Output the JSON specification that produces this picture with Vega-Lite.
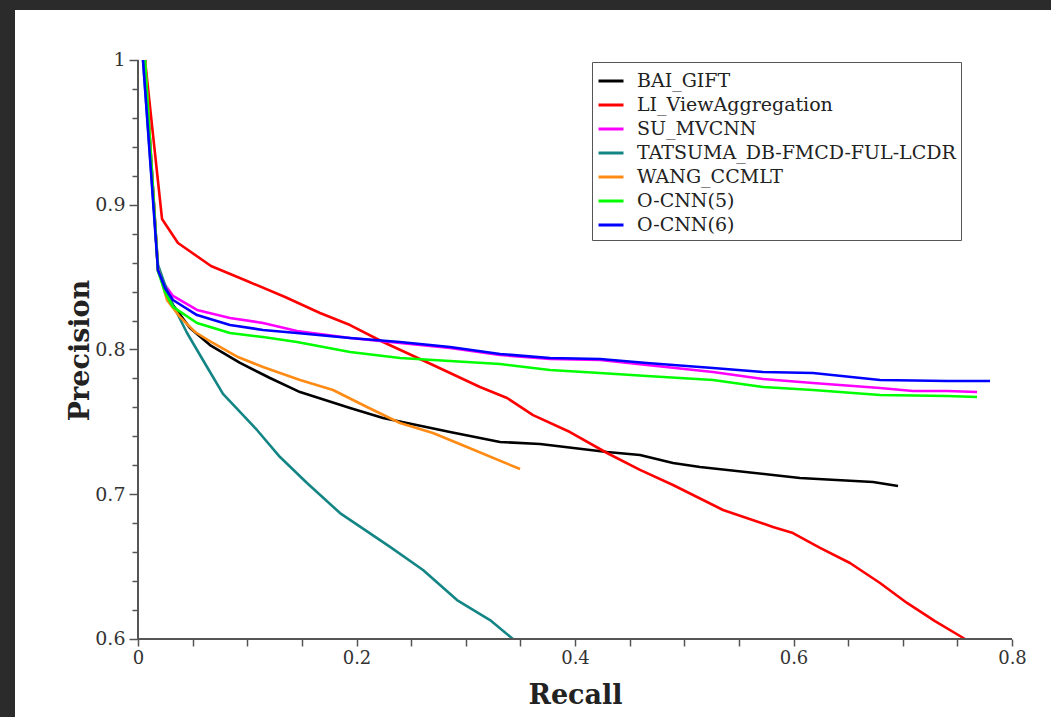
{
  "$schema": "https://vega.github.io/schema/vega-lite/v6.json",
  "autosize": "none",
  "width": 1036,
  "height": 707,
  "padding": {"left": 15, "top": 10, "right": 0, "bottom": 0},
  "background": "#2b2b2b",
  "config": {"view": {"fill": "white", "stroke": null}},
  "datasets": {
    "curves": [
      {"s":"BAI_GIFT","r":0.0064,"p":1.0},{"s":"BAI_GIFT","r":0.0183,"p":0.8542},{"s":"BAI_GIFT","r":0.032,"p":0.8307},{"s":"BAI_GIFT","r":0.0476,"p":0.8149},{"s":"BAI_GIFT","r":0.0659,"p":0.8031},{"s":"BAI_GIFT","r":0.0934,"p":0.7907},{"s":"BAI_GIFT","r":0.1208,"p":0.7803},{"s":"BAI_GIFT","r":0.1483,"p":0.7706},{"s":"BAI_GIFT","r":0.1941,"p":0.7596},{"s":"BAI_GIFT","r":0.2243,"p":0.7527},{"s":"BAI_GIFT","r":0.2856,"p":0.743},{"s":"BAI_GIFT","r":0.3314,"p":0.7361},{"s":"BAI_GIFT","r":0.368,"p":0.7347},{"s":"BAI_GIFT","r":0.4293,"p":0.7292},{"s":"BAI_GIFT","r":0.4595,"p":0.7271},{"s":"BAI_GIFT","r":0.4897,"p":0.7216},{"s":"BAI_GIFT","r":0.5144,"p":0.7188},{"s":"BAI_GIFT","r":0.5812,"p":0.7133},{"s":"BAI_GIFT","r":0.6059,"p":0.7112},{"s":"BAI_GIFT","r":0.6728,"p":0.7085},{"s":"BAI_GIFT","r":0.6957,"p":0.7057},
      {"s":"LI_ViewAggregation","r":0.0064,"p":1.0},{"s":"LI_ViewAggregation","r":0.022,"p":0.8902},{"s":"LI_ViewAggregation","r":0.0366,"p":0.8736},{"s":"LI_ViewAggregation","r":0.0668,"p":0.8577},{"s":"LI_ViewAggregation","r":0.0998,"p":0.8473},{"s":"LI_ViewAggregation","r":0.1346,"p":0.8363},{"s":"LI_ViewAggregation","r":0.1666,"p":0.8252},{"s":"LI_ViewAggregation","r":0.1941,"p":0.8169},{"s":"LI_ViewAggregation","r":0.2243,"p":0.8052},{"s":"LI_ViewAggregation","r":0.27,"p":0.7893},{"s":"LI_ViewAggregation","r":0.313,"p":0.7741},{"s":"LI_ViewAggregation","r":0.3378,"p":0.7665},{"s":"LI_ViewAggregation","r":0.3616,"p":0.7547},{"s":"LI_ViewAggregation","r":0.3954,"p":0.743},{"s":"LI_ViewAggregation","r":0.4293,"p":0.7285},{"s":"LI_ViewAggregation","r":0.4595,"p":0.7168},{"s":"LI_ViewAggregation","r":0.4897,"p":0.7064},{"s":"LI_ViewAggregation","r":0.5355,"p":0.6891},{"s":"LI_ViewAggregation","r":0.5812,"p":0.6774},{"s":"LI_ViewAggregation","r":0.5995,"p":0.6732},{"s":"LI_ViewAggregation","r":0.6243,"p":0.6629},{"s":"LI_ViewAggregation","r":0.6517,"p":0.6525},{"s":"LI_ViewAggregation","r":0.6792,"p":0.6387},{"s":"LI_ViewAggregation","r":0.7039,"p":0.6249},{"s":"LI_ViewAggregation","r":0.7295,"p":0.6124},{"s":"LI_ViewAggregation","r":0.757,"p":0.6},
      {"s":"SU_MVCNN","r":0.0064,"p":1.0},{"s":"SU_MVCNN","r":0.0183,"p":0.8549},{"s":"SU_MVCNN","r":0.0247,"p":0.8446},{"s":"SU_MVCNN","r":0.032,"p":0.837},{"s":"SU_MVCNN","r":0.054,"p":0.8273},{"s":"SU_MVCNN","r":0.0842,"p":0.8218},{"s":"SU_MVCNN","r":0.1144,"p":0.8183},{"s":"SU_MVCNN","r":0.1455,"p":0.8128},{"s":"SU_MVCNN","r":0.1941,"p":0.8079},{"s":"SU_MVCNN","r":0.2398,"p":0.8045},{"s":"SU_MVCNN","r":0.2856,"p":0.801},{"s":"SU_MVCNN","r":0.3314,"p":0.7962},{"s":"SU_MVCNN","r":0.3771,"p":0.7934},{"s":"SU_MVCNN","r":0.4229,"p":0.7927},{"s":"SU_MVCNN","r":0.4659,"p":0.7893},{"s":"SU_MVCNN","r":0.5263,"p":0.7845},{"s":"SU_MVCNN","r":0.5721,"p":0.7796},{"s":"SU_MVCNN","r":0.6178,"p":0.7769},{"s":"SU_MVCNN","r":0.6792,"p":0.7734},{"s":"SU_MVCNN","r":0.7094,"p":0.7713},{"s":"SU_MVCNN","r":0.7405,"p":0.7713},{"s":"SU_MVCNN","r":0.768,"p":0.7706},
      {"s":"TATSUMA_DB-FMCD-FUL-LCDR","r":0.0046,"p":1.0},{"s":"TATSUMA_DB-FMCD-FUL-LCDR","r":0.0183,"p":0.8584},{"s":"TATSUMA_DB-FMCD-FUL-LCDR","r":0.0293,"p":0.8349},{"s":"TATSUMA_DB-FMCD-FUL-LCDR","r":0.0449,"p":0.8114},{"s":"TATSUMA_DB-FMCD-FUL-LCDR","r":0.0632,"p":0.7879},{"s":"TATSUMA_DB-FMCD-FUL-LCDR","r":0.0778,"p":0.7693},{"s":"TATSUMA_DB-FMCD-FUL-LCDR","r":0.1089,"p":0.7444},{"s":"TATSUMA_DB-FMCD-FUL-LCDR","r":0.13,"p":0.7257},{"s":"TATSUMA_DB-FMCD-FUL-LCDR","r":0.1547,"p":0.7078},{"s":"TATSUMA_DB-FMCD-FUL-LCDR","r":0.1849,"p":0.687},{"s":"TATSUMA_DB-FMCD-FUL-LCDR","r":0.2307,"p":0.6636},{"s":"TATSUMA_DB-FMCD-FUL-LCDR","r":0.2609,"p":0.6477},{"s":"TATSUMA_DB-FMCD-FUL-LCDR","r":0.292,"p":0.6269},{"s":"TATSUMA_DB-FMCD-FUL-LCDR","r":0.3222,"p":0.6131},{"s":"TATSUMA_DB-FMCD-FUL-LCDR","r":0.3432,"p":0.6},
      {"s":"WANG_CCMLT","r":0.0064,"p":1.0},{"s":"WANG_CCMLT","r":0.0183,"p":0.8563},{"s":"WANG_CCMLT","r":0.0265,"p":0.8342},{"s":"WANG_CCMLT","r":0.0384,"p":0.8225},{"s":"WANG_CCMLT","r":0.0522,"p":0.8121},{"s":"WANG_CCMLT","r":0.0686,"p":0.8045},{"s":"WANG_CCMLT","r":0.0915,"p":0.7948},{"s":"WANG_CCMLT","r":0.1144,"p":0.7879},{"s":"WANG_CCMLT","r":0.1483,"p":0.7789},{"s":"WANG_CCMLT","r":0.1785,"p":0.772},{"s":"WANG_CCMLT","r":0.2096,"p":0.7603},{"s":"WANG_CCMLT","r":0.2398,"p":0.7492},{"s":"WANG_CCMLT","r":0.27,"p":0.7423},{"s":"WANG_CCMLT","r":0.3011,"p":0.7326},{"s":"WANG_CCMLT","r":0.3497,"p":0.7174},
      {"s":"O-CNN(5)","r":0.0064,"p":1.0},{"s":"O-CNN(5)","r":0.0183,"p":0.8542},{"s":"O-CNN(5)","r":0.0247,"p":0.8397},{"s":"O-CNN(5)","r":0.032,"p":0.8294},{"s":"O-CNN(5)","r":0.054,"p":0.8183},{"s":"O-CNN(5)","r":0.0842,"p":0.8114},{"s":"O-CNN(5)","r":0.1144,"p":0.8086},{"s":"O-CNN(5)","r":0.1455,"p":0.8052},{"s":"O-CNN(5)","r":0.1941,"p":0.7983},{"s":"O-CNN(5)","r":0.2398,"p":0.7941},{"s":"O-CNN(5)","r":0.2856,"p":0.7921},{"s":"O-CNN(5)","r":0.3314,"p":0.79},{"s":"O-CNN(5)","r":0.3771,"p":0.7858},{"s":"O-CNN(5)","r":0.4229,"p":0.7838},{"s":"O-CNN(5)","r":0.4659,"p":0.7817},{"s":"O-CNN(5)","r":0.5263,"p":0.7789},{"s":"O-CNN(5)","r":0.5721,"p":0.7741},{"s":"O-CNN(5)","r":0.6178,"p":0.772},{"s":"O-CNN(5)","r":0.6792,"p":0.7686},{"s":"O-CNN(5)","r":0.7405,"p":0.7679},{"s":"O-CNN(5)","r":0.768,"p":0.7672},
      {"s":"O-CNN(6)","r":0.0046,"p":1.0},{"s":"O-CNN(6)","r":0.0183,"p":0.8549},{"s":"O-CNN(6)","r":0.0247,"p":0.8425},{"s":"O-CNN(6)","r":0.032,"p":0.8342},{"s":"O-CNN(6)","r":0.054,"p":0.8238},{"s":"O-CNN(6)","r":0.0842,"p":0.8169},{"s":"O-CNN(6)","r":0.1144,"p":0.8135},{"s":"O-CNN(6)","r":0.1455,"p":0.8114},{"s":"O-CNN(6)","r":0.1941,"p":0.8079},{"s":"O-CNN(6)","r":0.2398,"p":0.8052},{"s":"O-CNN(6)","r":0.2856,"p":0.8017},{"s":"O-CNN(6)","r":0.3314,"p":0.7969},{"s":"O-CNN(6)","r":0.3771,"p":0.7941},{"s":"O-CNN(6)","r":0.4229,"p":0.7934},{"s":"O-CNN(6)","r":0.4659,"p":0.7907},{"s":"O-CNN(6)","r":0.5263,"p":0.7872},{"s":"O-CNN(6)","r":0.5721,"p":0.7845},{"s":"O-CNN(6)","r":0.6178,"p":0.7838},{"s":"O-CNN(6)","r":0.6792,"p":0.7789},{"s":"O-CNN(6)","r":0.7405,"p":0.7782},{"s":"O-CNN(6)","r":0.7799,"p":0.7782}
    ],
    "frame": [
      {"x": 0, "x2": 0.8, "y": 0.6, "y2": 0.6},
      {"x": 0, "x2": 0, "y": 0.6, "y2": 1}
    ]
  },
  "layer": [
    {
      "data": {"name": "curves"},
      "mark": {"type": "line", "strokeWidth": 2.6, "strokeJoin": "round"},
      "encoding": {
        "x": {
          "field": "r", "type": "quantitative",
          "scale": {"domain": [-0.112586, 0.835698], "nice": false, "zero": false},
          "axis": {
            "title": "Recall",
            "values": [0, 0.05, 0.1, 0.15, 0.2, 0.25, 0.3, 0.35, 0.4, 0.45, 0.5, 0.55, 0.6, 0.65, 0.7, 0.75, 0.8],
            "tickCount": 200,
            "format": "~g",
            "labelExpr": "indexof([0, 0.2, 0.4, 0.6, 0.8], datum.value) >= 0 ? datum.label : ''",
            "offset": -78,
            "domain": false,
            "grid": false,
            "tickSize": 7,
            "tickColor": "#555555",
            "tickWidth": 1.5,
            "labelFont": "DejaVu Serif",
            "labelFontSize": 18,
            "labelColor": "#333333",
            "labelPadding": 3,
            "labelFlush": false,
            "labelOverlap": false,
            "titleFont": "DejaVu Serif",
            "titleFontWeight": "bold",
            "titleFontSize": 27,
            "titleColor": "#222222",
            "titleX": 560,
            "titleY": 64,
            "titleAlign": "center",
            "titleBaseline": "alphabetic"
          }
        },
        "y": {
          "field": "p", "type": "quantitative",
          "scale": {"domain": [0.546114, 1.034542], "nice": false, "zero": false},
          "axis": {
            "title": "Precision",
            "values": [0.6, 0.62, 0.64, 0.66, 0.68, 0.7, 0.72, 0.74, 0.76, 0.78, 0.8, 0.82, 0.84, 0.86, 0.88, 0.9, 0.92, 0.94, 0.96, 0.98, 1],
            "tickCount": 200,
            "format": "~g",
            "labelExpr": "indexof([0.6, 0.7, 0.8, 0.9, 1], datum.value) >= 0 ? datum.label : ''",
            "offset": -123,
            "domain": false,
            "grid": false,
            "tickSize": {"condition": {"test": "indexof([0.6, 0.7, 0.8, 0.9, 1], datum.value) >= 0", "value": 9}, "value": 6},
            "tickColor": "#555555",
            "tickWidth": 1.5,
            "labelFont": "DejaVu Serif",
            "labelFontSize": 19,
            "labelColor": "#333333",
            "labelPadding": 4,
            "labelFlush": false,
            "labelOverlap": false,
            "titleFont": "DejaVu Serif",
            "titleFontWeight": "bold",
            "titleFontSize": 27,
            "titleColor": "#222222",
            "titleX": -50,
            "titleY": 340,
            "titleAngle": -90,
            "titleAlign": "center",
            "titleBaseline": "alphabetic"
          }
        },
        "color": {
          "field": "s", "type": "nominal",
          "scale": {
            "domain": ["BAI_GIFT", "LI_ViewAggregation", "SU_MVCNN", "TATSUMA_DB-FMCD-FUL-LCDR", "WANG_CCMLT", "O-CNN(5)", "O-CNN(6)"],
            "range": ["#000000", "#ff0000", "#ff00ff", "#138585", "#ff8a14", "#00ff00", "#0000ff"]
          },
          "legend": {
            "title": null,
            "orient": "none",
            "legendX": 577,
            "legendY": 52,
            "symbolType": "stroke",
            "symbolSize": 625,
            "symbolStrokeWidth": 3,
            "labelFont": "DejaVu Serif",
            "labelFontSize": 19,
            "labelColor": "#222222",
            "labelOffset": 12,
            "labelLimit": 500,
            "rowPadding": 0,
            "padding": 5,
            "strokeColor": "#555555",
            "fillColor": "white"
          }
        }
      }
    },
    {
      "data": {"name": "frame"},
      "mark": {"type": "rule", "color": "#555555", "strokeWidth": 2},
      "encoding": {
        "x": {"field": "x", "type": "quantitative"},
        "x2": {"field": "x2"},
        "y": {"field": "y", "type": "quantitative"},
        "y2": {"field": "y2"}
      }
    }
  ]
}
